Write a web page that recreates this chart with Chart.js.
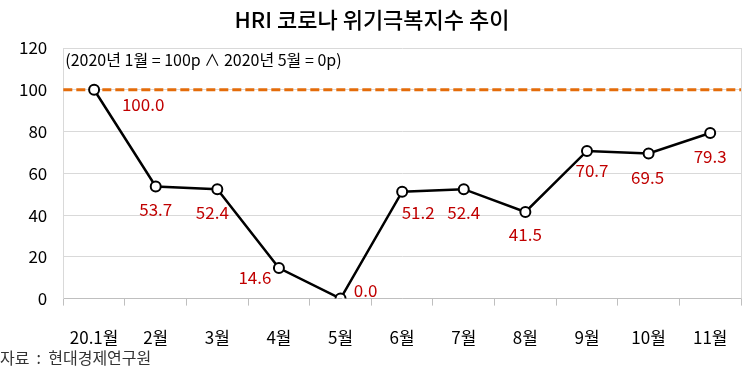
<!DOCTYPE html>
<html>
<head>
<meta charset="utf-8">
<script src="https://cdn.jsdelivr.net/npm/chart.js@4.4.1/dist/chart.umd.min.js"></script>
<style>
  html, body { margin:0; padding:0; background:#fff; }
</style>
</head>
<body>
<canvas id="chart" width="750" height="374"></canvas>
<script>
// ---------- Data ----------
const months = ['20.1월','2월','3월','4월','5월','6월','7월','8월','9월','10월','11월'];
const indexValues = [100, 53.7, 52.4, 14.6, 0, 51.2, 52.4, 41.5, 70.7, 69.5, 79.3];
const baseLine = 100;
const yTicks = [0, 20, 40, 60, 80, 100, 120];

// label offsets (px from each point)
const labelDx = [49, 0, -5, -24, 25, 16, 0, 0, 5, -1, 0];
const labelDy = [15, 23, 23, 9, -8, 21, 23, 23, 20, 24, 24];

const FONT = "'Noto Sans CJK KR', 'Noto Sans', sans-serif";

// ---------- Plugins ----------
const extras = {
  id: 'extras',
  beforeDatasetsDraw(chart) {
    const {ctx, chartArea:{left, right, top, bottom}, scales:{y}} = chart;
    const yy = y.getPixelForValue(baseLine);
    ctx.save();
    // right frame line
    ctx.strokeStyle = '#d9d9d9';
    ctx.lineWidth = 1;
    ctx.beginPath();
    ctx.moveTo(right + 0.5, top);
    ctx.lineTo(right + 0.5, bottom);
    ctx.stroke();
    // 100p base line
    ctx.strokeStyle = '#E46C0A';
    ctx.lineWidth = 3;
    ctx.setLineDash([9, 4]);
    ctx.beginPath();
    ctx.moveTo(left, yy);
    ctx.lineTo(right, yy);
    ctx.stroke();
    ctx.restore();
  },
  afterDatasetsDraw(chart) {
    const {ctx} = chart;
    ctx.save();
    ctx.font = '17px ' + FONT;
    ctx.fillStyle = '#C00000';
    ctx.textAlign = 'center';
    ctx.textBaseline = 'middle';
    chart.getDatasetMeta(0).data.forEach((pt, i) => {
      ctx.fillText(indexValues[i].toFixed(1), pt.x + labelDx[i], pt.y + labelDy[i]);
    });
    ctx.restore();
  },
  afterDraw(chart) {
    const {ctx, chartArea:{left, top}} = chart;
    ctx.save();
    ctx.fillStyle = '#000';
    ctx.textBaseline = 'middle';
    ctx.textAlign = 'center';
    ctx.font = '500 22px ' + FONT;
    ctx.fillText('HRI 코로나 위기극복지수 추이', 372, 20);
    ctx.textAlign = 'left';
    ctx.font = '16px ' + FONT;
    ctx.fillText('(2020년 1월 = 100p ∧ 2020년 5월 = 0p)', left + 2, top + 12);
    ctx.fillStyle = '#333';
    ctx.font = '16px ' + FONT;
    ctx.fillText('자료  :  현대경제연구원', 0, 358);
    ctx.restore();
  }
};

// ---------- Chart ----------
new Chart(document.getElementById('chart'), {
  type: 'line',
  data: {
    labels: months,
    datasets: [{
      data: indexValues,
      borderColor: '#000',
      borderWidth: 2.5,
      pointRadius: 5,
      pointBorderWidth: 2,
      pointBackgroundColor: '#fff',
      pointBorderColor: '#000',
      tension: 0
    }]
  },
  options: {
    responsive: false,
    animation: false,
    devicePixelRatio: 1,
    layout: { padding: { top: 48, right: 9, bottom: 4, left: 3 } },
    plugins: { legend: { display: false }, tooltip: { enabled: false } },
    scales: {
      x: {
        offset: true,
        grid: { offset: true, drawOnChartArea: false, tickLength: 7, color: '#bfbfbf' },
        border: { color: '#bfbfbf' },
        ticks: { color: '#000', font: { family: FONT, size: 17 }, padding: 22, maxRotation: 0, autoSkip: false }
      },
      y: {
        min: 0, max: 120,
        afterBuildTicks(axis) { axis.ticks = yTicks.map(v => ({ value: v })); },
        grid: { color: '#d9d9d9', drawTicks: false },
        border: { color: '#d9d9d9' },
        ticks: { color: '#000', font: { family: FONT, size: 17 }, padding: 16 }
      }
    }
  },
  plugins: [extras]
});
</script>
</body>
</html>
